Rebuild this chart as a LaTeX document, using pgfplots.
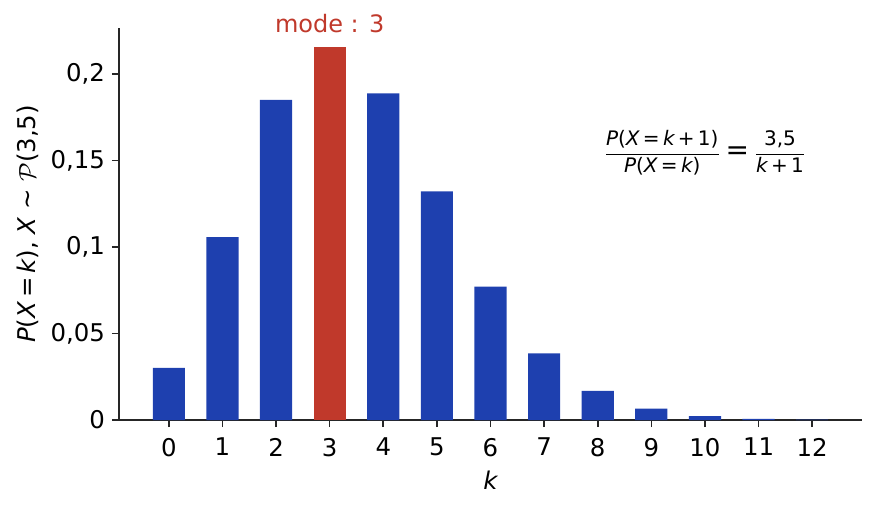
\documentclass[border=0pt]{standalone}
\usepackage{amsmath}
\usepackage{pgfplots}
\pgfplotsset{compat=1.18}
\usepackage{fontspec}
\setmainfont{DejaVu Sans}
\definecolor{barblue}{HTML}{1E40AF}
\definecolor{modered}{HTML}{C0392B}
\definecolor{spine}{HTML}{262626}
\newcommand{\mi}[1]{{\itshape #1}}
\begin{document}
\begin{tikzpicture}
\begin{axis}[
    scale only axis,
    width=371.5pt, height=196pt,
    xmin=-0.93, xmax=12.93,
    ymin=0, ymax=0.2266,
    axis lines=left,
    axis line style={-, spine, line width=0.8pt},
    tick style={spine, line width=0.8pt},
    tick align=outside,
    major tick length=3.5pt,
    xtick={0,1,...,12},
    ytick={0,0.05,0.1,0.15,0.2},
    yticklabels={0,{0,05},{0,1},{0,15},{0,2}},
    /pgf/number format/assume math mode=true,
    ticklabel style={font=\fontsize{12.2}{14}\selectfont},
    xticklabel style={yshift=-2pt},
    xlabel={\mi{k}},
    xlabel style={yshift=-0.5pt},
    ylabel={\mi{P}(\mi{X}\,=\,\mi{k}), \mi{X} ∼ $\mathcal{P}$(3,5)},
    ylabel style={yshift=-1pt},
    label style={font=\fontsize{12.2}{14}\selectfont},
    ybar, bar width=0.6, bar shift=0pt,
    clip=false,
]
\addplot[fill=barblue, draw=none] coordinates {
(0,0.0302) (1,0.1057) (2,0.1850) (4,0.1888) (5,0.1322) (6,0.0771)
(7,0.0385) (8,0.0169) (9,0.0066) (10,0.0023) (11,0.0007) (12,0.0002)
};
\addplot[fill=modered, draw=none] coordinates {(3,0.2158)};
\node[anchor=base, inner sep=0pt, text=modered, font=\fontsize{12}{14}\selectfont]
  at (axis cs:3,0.2158) [yshift=7pt] {mode : 3};
\node[inner sep=0pt] at (axis cs:10.0,0.1543) {$\dfrac{\mbox{\fontsize{10}{11}\selectfont\mi{P}(\mi{X}\,=\,\mi{k}\,+\,1)}}{\mbox{\fontsize{10}{11}\selectfont\mi{P}(\mi{X}\,=\,\mi{k})}}
  \mbox{\fontsize{14}{14}\selectfont\,=\,}
  \dfrac{\mbox{\fontsize{10}{11}\selectfont 3,5}}{\mbox{\fontsize{10}{11}\selectfont\mi{k}\,+\,1}}$};
\end{axis}
\pgfresetboundingbox
\path[use as bounding box] ([xshift=-59.5pt,yshift=-44.5pt]current axis.south west) rectangle ([xshift=7.5pt,yshift=14pt]current axis.north east);
\end{tikzpicture}
\end{document}
